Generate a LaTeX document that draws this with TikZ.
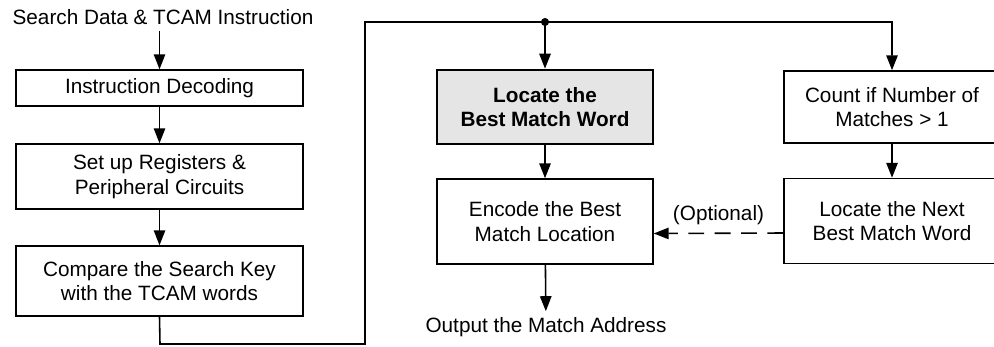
\documentclass[tikz,border=0pt]{standalone}
\usepackage{fontspec}
\setmainfont{Liberation Sans}
\usepackage{xcolor}
\usetikzlibrary{arrows.meta,positioning,calc}

\begin{document}
\begin{tikzpicture}[
  x=0.02cm, y=-0.02cm,
  font=\fontsize{11.8}{14}\selectfont,
  box/.style={rectangle, draw, line width=0.9pt, minimum width=5.74cm, align=center, inner sep=2pt},
  wbox/.style={box, minimum width=4.32cm},
  arrow/.style={-{Triangle[length=8.5pt,width=6.5pt]}, line width=0.9pt}
]
\useasboundingbox (0,0) rectangle (994,346);

% left column
\node (title) at (163,17) {Search Data \& TCAM Instruction};
\node[box, minimum height=0.72cm] (dec) at (159.5,88) {Instruction Decoding};
\node[box, minimum height=1.3cm] (reg) at (159.5,176.5) {Set up Registers \&\\Peripheral Circuits};
\node[box, minimum height=1.4cm] (cmp) at (159.5,281) {Compare the Search Key\\with the TCAM words};

% middle and right columns
\node[wbox, minimum height=1.48cm, line width=1.6pt, fill=black!10, font=\fontsize{11.8}{14}\selectfont\bfseries] (best) at (545,107) {Locate the\\Best Match Word};
\node[wbox, minimum height=1.7cm] (enc) at (545,221.5) {Encode the Best\\Match Location};
\node (out) at (546,327) {Output the Match Address};
\node[wbox, minimum height=1.44cm] (cnt) at (892,107) {Count if Number of\\Matches > 1};
\node[wbox, minimum height=1.7cm] (next) at (892,221) {Locate the Next\\Best Match Word};

\coordinate (split) at (545,22);

\draw[arrow] (dec.north |- title.south) -- (dec.north);
\draw[arrow] (dec) -- (reg);
\draw[arrow] (reg) -- (cmp);
\draw[arrow] (cmp.south) -- (160,344) -- (365,344) -- (365,22) -| (cnt.north);
\fill (split) circle (2.3pt);
\draw[arrow] (split) -- (best);
\draw[arrow] (best) -- (enc);
\draw[arrow] (enc) -- (out);
\draw[arrow] (cnt) -- (next);
\draw[arrow, dashed, dash pattern=on 9pt off 6pt] ([yshift=-0.24cm]next.west) -- ([yshift=-0.24cm]enc.east)
  node[midway, above=1pt] {(Optional)};
\end{tikzpicture}
\end{document}
